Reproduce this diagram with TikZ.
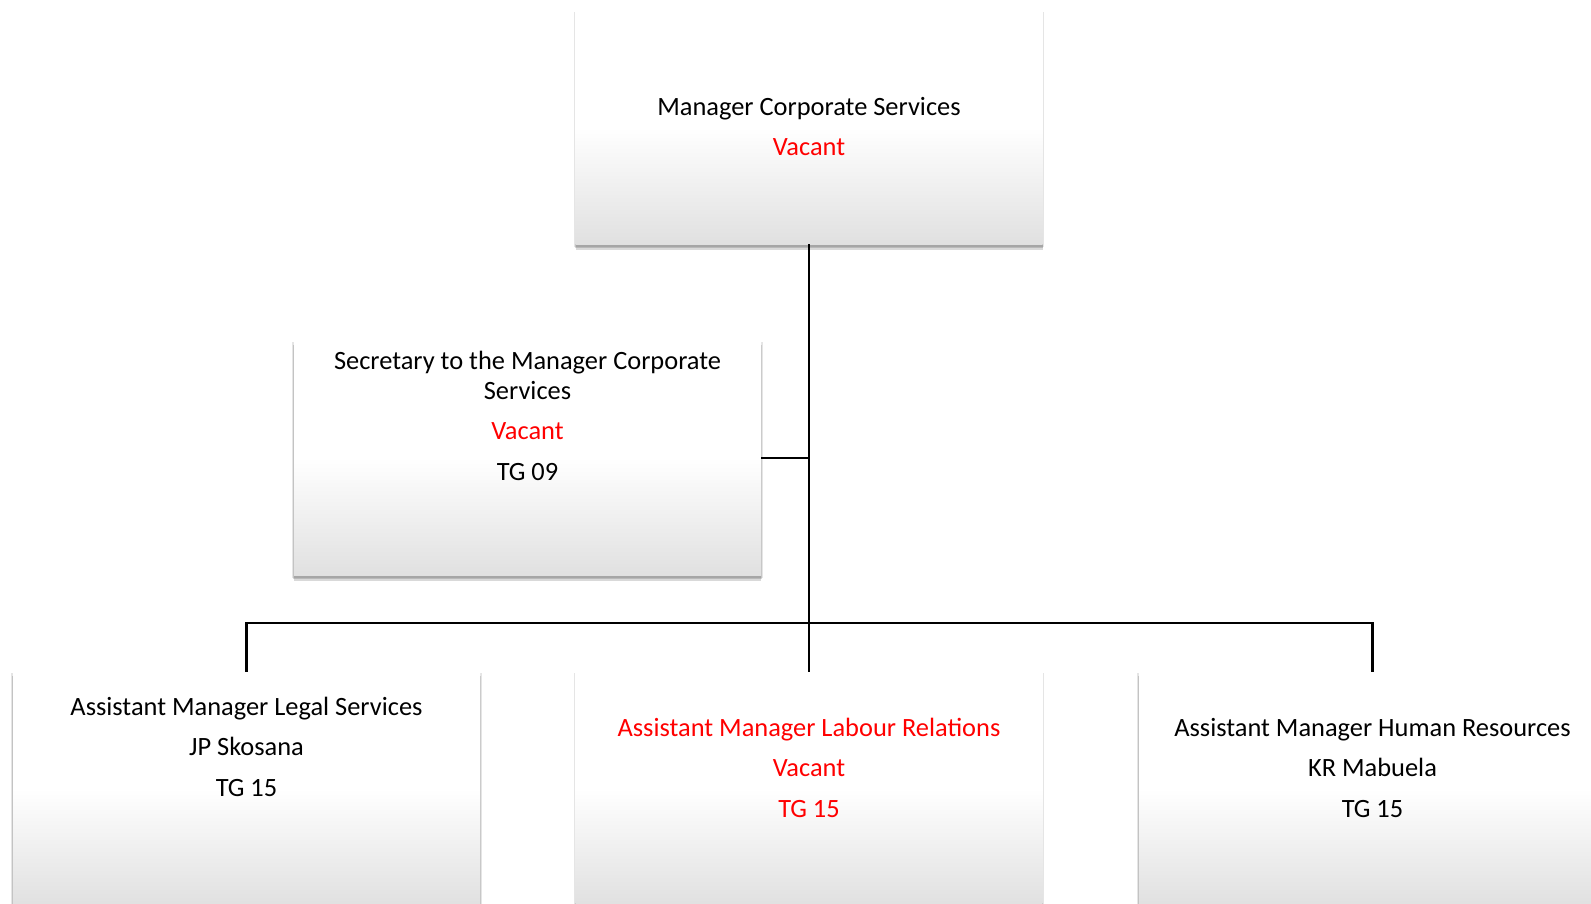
\documentclass[tikz,border=0pt]{standalone}
\usepackage{fontspec}
\setmainfont{Carlito}
\usetikzlibrary{shadows}
\definecolor{vacred}{RGB}{255,0,0}
\tikzset{
  shadowed/.style={
    general shadow={fill=black, opacity=0.10, shadow yshift=-2pt, shadow scale=1.008},
    general shadow={fill=black, opacity=0.15, shadow yshift=-4pt, shadow scale=1.004},
    general shadow={fill=black, opacity=0.15, shadow yshift=-6pt}},
  orgbox/.style={rectangle, draw=none, inner sep=0pt, minimum width=467pt, minimum height=233pt,
    top color=white, bottom color=gray!24, middle color=white, shadowed},
  conn/.style={line width=2.7pt, black},
  boxtext/.style={align=center, inner sep=0pt, font=\fontsize{26.4}{29.5}\selectfont}
}
\begin{document}
\begin{tikzpicture}[x=1pt, y=-1pt]
  \useasboundingbox (0,0) rectangle (1591,903);
  \clip (0,0) rectangle (1591,903);
  % boxes
  \node[orgbox] (top) at (809,127.5) {};
  \node[orgbox, minimum height=234pt] (sec) at (527.5,458) {};
  \node[orgbox] (left) at (246.5,788.5) {};
  \node[orgbox] (mid) at (809,788.5) {};
  \node[orgbox] (right) at (1372.5,788.5) {};
  % connectors
  \coordinate (bus) at (809,623);
  \draw[conn] (top.south) -- (bus);
  \draw[conn] (sec.east) -- (sec.east -| top.south);
  \draw[conn] (left.north) |- (bus) -| (right.north);
  \draw[conn] (bus) -- (mid.north);
  % texts
  \node[boxtext] (ttop) at (809,126.5) {Manager Corporate Services\\[11pt]\textcolor{vacred}{Vacant}};
  \node[boxtext] (tsec) at (527.5,416) {Secretary to the Manager Corporate\\Services\\[11pt]\textcolor{vacred}{Vacant}\\[11pt]TG 09};
  \node[boxtext] (tleft) at (246.5,746.5) {Assistant Manager Legal Services\\[11pt]JP Skosana\\[11pt]TG 15};
  \node[boxtext, text=vacred] (tmid) at (809,767.5) {Assistant Manager Labour Relations\\[11pt]Vacant\\[11pt]TG 15};
  \node[boxtext] (tright) at (1372.5,767.5) {Assistant Manager Human Resources\\[11pt]KR Mabuela\\[11pt]TG 15};
\end{tikzpicture}
\end{document}
